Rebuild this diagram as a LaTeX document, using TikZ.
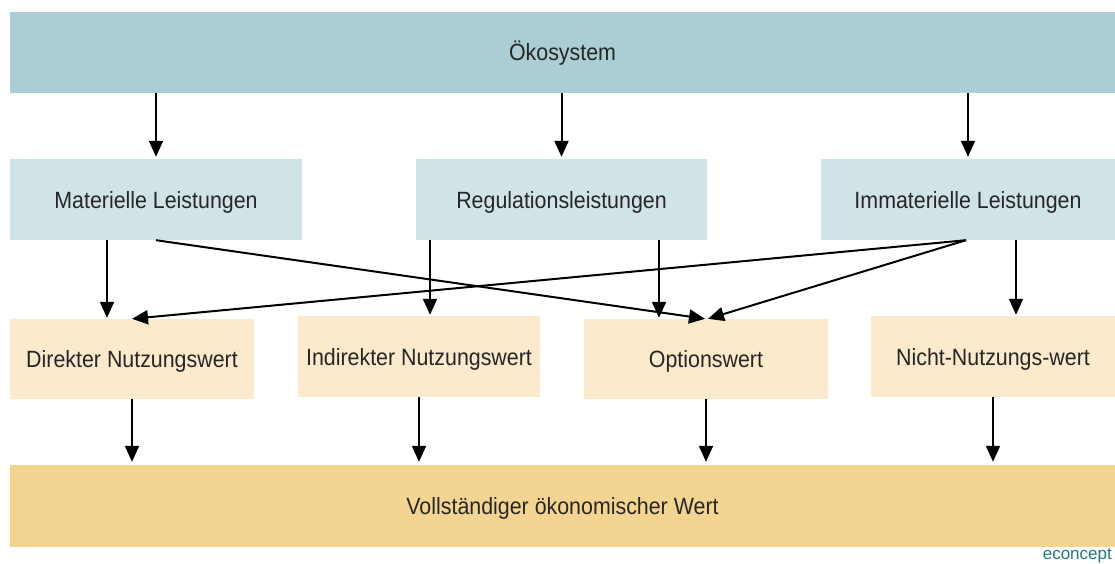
\documentclass[tikz,border=0pt]{standalone}
\usepackage{fontspec}
\setmainfont{Liberation Sans}[FakeStretch=0.91]
\newfontfamily\econfont{Liberation Sans}
\usetikzlibrary{arrows.meta,calc}
\definecolor{ctop}{HTML}{ABCED4}
\definecolor{cmid}{HTML}{D0E4E8}
\definecolor{crow}{HTML}{FBEACB}
\definecolor{cbot}{HTML}{F3D591}
\definecolor{ctext}{HTML}{262626}
\definecolor{cecon}{HTML}{1F7A80}
\tikzset{
  box/.style={draw=none, inner sep=0pt, text height=17pt, text depth=0pt, text=ctext, font=\fontsize{23.5}{28}\selectfont, anchor=center},
  arr/.style={line width=2pt, -{Triangle[length=16pt,width=14pt]}},
}
\begin{document}
\begin{tikzpicture}[x=1pt,y=-1pt]
\fill[white] (0,0) rectangle (1115,564);
\useasboundingbox (0,0) rectangle (1115,564);
% boxes
\node[box, fill=ctop, minimum width=1105pt, minimum height=81pt] (oeko) at (562.5,52.5) {Ökosystem};
\node[box, fill=cmid, minimum width=292pt, minimum height=81pt] (mat) at (156,199.5) {Materielle Leistungen};
\node[box, fill=cmid, minimum width=291pt, minimum height=81pt] (reg) at (561.5,199.5) {Regulationsleistungen};
\node[box, fill=cmid, minimum width=294pt, minimum height=81pt] (imm) at (968,199.5) {Immaterielle Leistungen};
\node[box, fill=crow, minimum width=244pt, minimum height=80pt] (dir) at (132,359) {Direkter Nutzungswert};
\node[box, fill=crow, minimum width=242pt, minimum height=81pt] (ind) at (419,356.5) {Indirekter Nutzungswert};
\node[box, fill=crow, minimum width=244pt, minimum height=80pt] (opt) at (706,359) {Optionswert};
\node[box, fill=crow, minimum width=244pt, minimum height=81pt] (nicht) at (993,356.5) {Nicht-Nutzungs-wert};
\node[box, fill=cbot, minimum width=1105pt, minimum height=82pt] (voll) at (562.5,506) {Vollständiger ökonomischer Wert};
\node[anchor=base east, inner sep=0pt, text=cecon, font=\econfont\fontsize{17}{20}\selectfont] (ec) at (1112,559.5) {econcept};
% top arrows
\draw[arr, shorten >=2pt] (mat.north |- oeko.south) -- (mat.north);
\draw[arr, shorten >=2pt] (reg.north |- oeko.south) -- (reg.north);
\draw[arr, shorten >=2pt] (imm.north |- oeko.south) -- (imm.north);
% middle arrows
\coordinate (m1) at ($(mat.south)+(-49,0)$);
\coordinate (r1) at ($(reg.south)+(-131.5,0)$);
\coordinate (r2) at ($(reg.south)+(97.5,0)$);
\coordinate (i1) at ($(imm.south)+(48,0)$);
\draw[arr, shorten >=1pt] (m1) -- (m1 |- dir.north);
\draw[arr, shorten >=1pt] (r1) -- (r1 |- ind.north);
\draw[arr, shorten >=1pt] (r2) -- (r2 |- opt.north);
\draw[arr, shorten >=1pt] (i1) -- (i1 |- nicht.north);
\draw[arr] (mat.south) -- ($(opt.north)+(-1,0)$);
\draw[arr] ($(imm.south)+(-2,0)$) -- (dir.north);
\draw[arr] ($(imm.south)+(-2,0)$) -- ($(opt.north)+(2,0)$);
% bottom arrows
\draw[arr, shorten >=3pt] (dir.south) -- (dir.south |- voll.north);
\draw[arr, shorten >=3pt] (ind.south) -- (ind.south |- voll.north);
\draw[arr, shorten >=3pt] (opt.south) -- (opt.south |- voll.north);
\draw[arr, shorten >=3pt] (nicht.south) -- (nicht.south |- voll.north);
\end{tikzpicture}
\end{document}
